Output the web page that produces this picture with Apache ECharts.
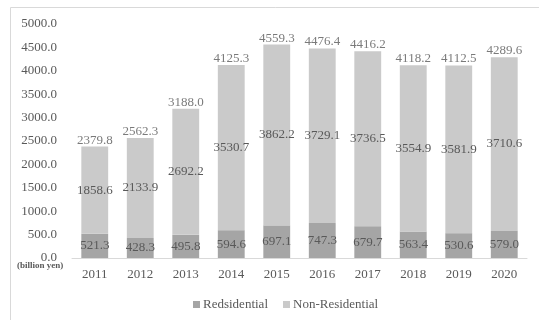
<!DOCTYPE html>
<html>
<head>
<meta charset="utf-8">
<script src="https://cdn.jsdelivr.net/npm/echarts@6/dist/echarts.min.js"></script>
<style>
  html, body { margin: 0; padding: 0; background: #fff; }
  #chart { width: 539px; height: 320px; }
</style>
</head>
<body>
<div id="chart"></div>
<script>
const years = ['2011', '2012', '2013', '2014', '2015', '2016', '2017', '2018', '2019', '2020'];
const residential = [521.3, 428.3, 495.8, 594.6, 697.1, 747.3, 679.7, 563.4, 530.6, 579.0];
const nonResidential = [1858.6, 2133.9, 2692.2, 3530.7, 3862.2, 3729.1, 3736.5, 3554.9, 3581.9, 3710.6];
const totals = [2379.8, 2562.3, 3188.0, 4125.3, 4559.3, 4476.4, 4416.2, 4118.2, 4112.5, 4289.6];

const FONT = '"Liberation Serif", "Times New Roman", serif';
const TEXT = '#595959';

const chart = echarts.init(document.getElementById('chart'));

const labelStyle = {
  show: true,
  position: 'inside',
  fontFamily: FONT,
  fontSize: 13,
  color: TEXT,
  formatter: (p) => p.value.toFixed(1)
};

chart.setOption({
  animation: false,
  textStyle: { fontFamily: FONT },
  graphic: [
    {
      type: 'rect',
      shape: { x: 10.5, y: 7.5, width: 560, height: 340 },
      style: { fill: 'none', stroke: '#d9d9d9', lineWidth: 1 }
    },
    {
      type: 'text',
      left: 17,
      top: 261,
      style: { text: '(billion yen)', font: 'bold 9px ' + FONT, fill: TEXT }
    }
  ],
  grid: { left: 72, right: 12, top: 24, bottom: 62 },
  legend: {
    bottom: 4,
    left: 188,
    itemWidth: 7,
    itemHeight: 7,
    itemGap: 15,
    icon: 'rect',
    textStyle: { fontFamily: FONT, fontSize: 13, color: TEXT, padding: [0, 0, 0, -2] },
    data: ['Redsidential', 'Non-Residential']
  },
  xAxis: {
    type: 'category',
    data: years,
    axisLine: { lineStyle: { color: '#d9d9d9', width: 1 } },
    axisTick: { show: false },
    axisLabel: { fontFamily: FONT, fontSize: 13, color: TEXT, margin: 10 }
  },
  yAxis: {
    type: 'value',
    min: 0,
    max: 5000,
    interval: 500,
    axisLine: { show: false },
    axisTick: { show: false },
    splitLine: { show: false },
    axisLabel: {
      fontFamily: FONT, fontSize: 13, color: TEXT, margin: 15,
      formatter: (v) => v.toFixed(1)
    }
  },
  series: [
    {
      name: 'Redsidential',
      type: 'bar',
      stack: 'total',
      barCategoryGap: '41%',
      data: residential,
      itemStyle: { color: '#a5a5a5' },
      label: labelStyle
    },
    {
      name: 'Non-Residential',
      type: 'bar',
      stack: 'total',
      data: nonResidential,
      itemStyle: { color: '#cacaca' },
      label: labelStyle
    },
    {
      name: 'Total',
      type: 'scatter',
      data: totals,
      symbolSize: 0,
      silent: true,
      label: {
        show: true,
        position: 'top',
        distance: 0,
        fontFamily: FONT,
        fontSize: 13,
        color: TEXT,
        formatter: (p) => p.value.toFixed(1)
      }
    }
  ]
});
</script>
</body>
</html>
